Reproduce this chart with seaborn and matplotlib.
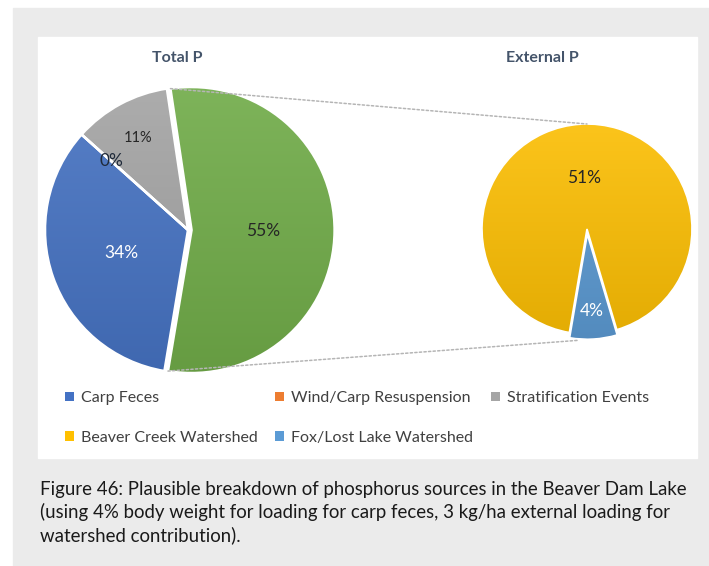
import numpy as np
import matplotlib
matplotlib.use("Agg")
import matplotlib.pyplot as plt
import seaborn as sns
from matplotlib.patches import Rectangle, Patch, ConnectionPatch
from matplotlib.colors import to_rgb

# ---------------- data ----------------
total_categories = ["Carp Feces", "Wind/Carp Resuspension", "Stratification Events", "External P"]
total_values = [34, 0, 11, 55]
external_categories = ["Beaver Creek Watershed", "Fox/Lost Lake Watershed"]
external_values = [51, 4]
legend_labels = ["Carp Feces", "Wind/Carp Resuspension", "Stratification Events",
                 "Beaver Creek Watershed", "Fox/Lost Lake Watershed"]
title_left = "Total P"
title_right = "External P"
caption = ("Figure 46: Plausible breakdown of phosphorus sources in the Beaver Dam Lake\n"
           "(using 4% body weight for loading for carp feces, 3 kg/ha external loading for\n"
           "watershed contribution).")

# ---------------- style ----------------
sns.set_theme(style="white")
plt.rcParams["font.family"] = ["Lato", "DejaVu Sans"]

colors = dict(zip(legend_labels + ["External P"],
                  sns.color_palette(["#4472C4", "#ED7D31", "#A5A5A5", "#FFC000", "#5B9BD5", "#70AD47"])))

W, H = 709, 566
fig = plt.figure(figsize=(W / 100, H / 100), dpi=100, facecolor="white")


def frect(x0, y0, x1, y1):
    return (x0 / W, 1 - y1 / H, (x1 - x0) / W, (y1 - y0) / H)


def pie_rect(cx, cy, r, lim):
    s = r * lim
    return frect(cx - s, cy - s, cx + s, cy + s)


# backgrounds
x, y, w, h = frect(13, 8, 709, 566)
fig.patches.append(Rectangle((x, y), w, h, transform=fig.transFigure, color="#ebebeb", zorder=-10))
x, y, w, h = frect(38, 37, 697, 458)
fig.patches.append(Rectangle((x, y), w, h, transform=fig.transFigure, color="white", zorder=-9))


def shade(ax, wedges):
    grad = np.linspace(0, 1, 256)[:, None]
    for wd in wedges:
        c = np.array(to_rgb(wd.get_facecolor()))
        top = c + (1 - c) * 0.12
        bot = c * 0.88
        img = top[None, None, :] * (1 - grad[:, :, None]) + bot[None, None, :] * grad[:, :, None]
        im = ax.imshow(img, extent=[-1.3, 1.3, -1.3, 1.3], origin="upper", aspect="auto", zorder=1)
        im.set_clip_path(wd)
        wd.set_facecolor("none")
        wd.set_zorder(2)


def place_labels(wedges, texts, dists, tcolors, sizes):
    for wd, t, d, tc, fs in zip(wedges, texts, dists, tcolors, sizes):
        ang = np.deg2rad((wd.theta1 + wd.theta2) / 2)
        cx, cy = wd.center
        t.set_position((cx + d * wd.r * np.cos(ang), cy + d * wd.r * np.sin(ang)))
        t.set_color(tc)
        t.set_fontsize(fs)
        t.set_zorder(5)


LIM_L = 1.08
LIM_R = 1.1

# ---------------- left pie ----------------
axL = fig.add_axes(pie_rect(188, 230, 143, LIM_L))
wL, _, tL = axL.pie(total_values, colors=[colors[c] for c in total_categories],
                     startangle=-99.5, counterclock=False,
                     explode=[0, 0, 0, 0.025], autopct="%.0f%%",
                     wedgeprops=dict(edgecolor="white", linewidth=1.8))
shade(axL, wL)
place_labels(wL, tL, [0.49, 0.72, 0.73, 0.5], ["white", "#1f2a3a", "#262626", "#262626"],
             [12.5, 12.5, 10.5, 12.5])
axL.set_xlim(-LIM_L, LIM_L)
axL.set_ylim(-LIM_L, LIM_L)
axL.set_aspect("equal")
axL.axis("off")

# ---------------- right pie ----------------
tot_ext = sum(external_values)
axR = fig.add_axes(pie_rect(587, 229, 105, LIM_R))
wR, _, tR = axR.pie(external_values, colors=[colors[c] for c in external_categories],
                     startangle=-73.5, counterclock=True, explode=[0, 0.05],
                     autopct=lambda p: f"{p * tot_ext / 100:.0f}%",
                     wedgeprops=dict(edgecolor="white", linewidth=1.2))
shade(axR, wR)
place_labels(wR, tR, [0.49, 0.73], ["#262626", "white"], [12.5, 12.5])
axR.set_xlim(-LIM_R, LIM_R)
axR.set_ylim(-LIM_R, LIM_R)
axR.set_aspect("equal")
axR.axis("off")

# connector lines (pie of pie)
g = wL[-1]
gc = g.center
for ang, target in ((g.theta2, (0, 1.0)), (g.theta1, (-0.08, -1.06))):
    a = np.deg2rad(ang)
    p = (gc[0] + np.cos(a), gc[1] + np.sin(a))
    con = ConnectionPatch(xyA=p, coordsA=axL.transData, xyB=target, coordsB=axR.transData,
                          color="#b5b5b5", linestyle=(0, (1.5, 1.5)), linewidth=1.1, zorder=3)
    fig.add_artist(con)

# titles
fig.text(177 / W, 1 - 58 / H, title_left, ha="center", va="center", fontsize=11.5,
         fontweight="bold", color="#44546a")
fig.text(542 / W, 1 - 58 / H, title_right, ha="center", va="center", fontsize=11.5,
         fontweight="bold", color="#44546a")

# legend (row-major order)
handles = [Patch(facecolor=colors[l], edgecolor="none", label=l) for l in legend_labels]
order = [0, 3, 1, 4, 2]
fig.legend([handles[i] for i in order], [legend_labels[i] for i in order], ncol=3,
           loc="upper left", bbox_to_anchor=(65 / W, 1 - 391 / H), frameon=False,
           fontsize=11.5, handlelength=0.55, handleheight=0.55, handletextpad=0.45,
           columnspacing=1.1, labelspacing=1.6, borderaxespad=0, borderpad=0,
           labelcolor="#404040")

# caption
fig.text(40 / W, 1 - 481 / H, caption, ha="left", va="top", fontsize=13.4,
         linespacing=1.33, color="#1a1a1a")

fig.savefig("out.png", dpi=100, facecolor="white")
